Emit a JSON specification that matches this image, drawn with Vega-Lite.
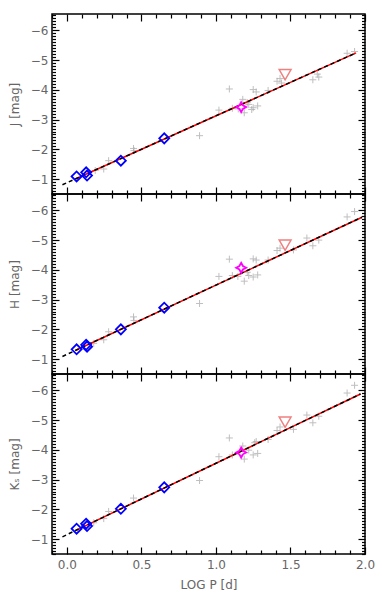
{
  "$schema": "https://vega.github.io/schema/vega-lite/v6.json",
  "padding": {"left": 7, "top": 8, "right": 16, "bottom": 4},
  "spacing": 0,
  "bounds": "flush",
  "config": {
    "view": {"stroke": "black", "strokeWidth": 1.5},
    "axis": {
      "domain": false, "grid": false,
      "labelFont": "DejaVu Sans", "labelFontSize": 12, "labelColor": "#666666",
      "titleFont": "DejaVu Sans", "titleFontSize": 12, "titleColor": "#666666", "titleFontWeight": "normal",
      "tickColor": "black", "tickWidth": 1.2, "labelFlush": false, "labelOverlap": false
    }
  },
  "datasets": {
    "J": [
      {"logP": 0.19, "mag": -1.29, "kind": "field"},
      {"logP": 0.247, "mag": -1.34, "kind": "field"},
      {"logP": 0.28, "mag": -1.62, "kind": "field"},
      {"logP": 0.447, "mag": -2.03, "kind": "field"},
      {"logP": 0.45, "mag": -1.96, "kind": "field"},
      {"logP": 0.89, "mag": -2.46, "kind": "field"},
      {"logP": 1.02, "mag": -3.32, "kind": "field"},
      {"logP": 1.09, "mag": -4.03, "kind": "field"},
      {"logP": 1.11, "mag": -3.38, "kind": "field"},
      {"logP": 1.15, "mag": -3.36, "kind": "field"},
      {"logP": 1.18, "mag": -3.68, "kind": "field"},
      {"logP": 1.19, "mag": -3.23, "kind": "field"},
      {"logP": 1.21, "mag": -3.57, "kind": "field"},
      {"logP": 1.22, "mag": -3.51, "kind": "field"},
      {"logP": 1.24, "mag": -3.34, "kind": "field"},
      {"logP": 1.25, "mag": -4.01, "kind": "field"},
      {"logP": 1.27, "mag": -3.93, "kind": "field"},
      {"logP": 1.25, "mag": -3.4, "kind": "field"},
      {"logP": 1.28, "mag": -3.46, "kind": "field"},
      {"logP": 1.35, "mag": -3.98, "kind": "field"},
      {"logP": 1.41, "mag": -4.29, "kind": "field"},
      {"logP": 1.43, "mag": -4.38, "kind": "field"},
      {"logP": 1.44, "mag": -4.23, "kind": "field"},
      {"logP": 1.65, "mag": -4.34, "kind": "field"},
      {"logP": 1.68, "mag": -4.53, "kind": "field"},
      {"logP": 1.69, "mag": -4.43, "kind": "field"},
      {"logP": 1.88, "mag": -5.23, "kind": "field"},
      {"logP": 1.93, "mag": -5.29, "kind": "field"},
      {"logP": 0.065, "mag": -1.09, "kind": "blue"},
      {"logP": 0.129, "mag": -1.23, "kind": "blue"},
      {"logP": 0.135, "mag": -1.12, "kind": "blue"},
      {"logP": 0.362, "mag": -1.62, "kind": "blue"},
      {"logP": 0.653, "mag": -2.37, "kind": "blue"},
      {"logP": 1.169, "mag": -3.42, "kind": "magenta"},
      {"logP": 1.464, "mag": -4.51, "kind": "red"}
    ],
    "Jfit": [
      {"logP": 0.06, "mag": -1.013, "line": "red"},
      {"logP": 1.94, "mag": -5.243, "line": "red"},
      {"logP": -0.03, "mag": -0.81, "line": "black"},
      {"logP": 1.94, "mag": -5.243, "line": "black"}
    ],
    "H": [
      {"logP": 0.18, "mag": -1.53, "kind": "field"},
      {"logP": 0.247, "mag": -1.65, "kind": "field"},
      {"logP": 0.28, "mag": -1.92, "kind": "field"},
      {"logP": 0.447, "mag": -2.42, "kind": "field"},
      {"logP": 0.45, "mag": -2.3, "kind": "field"},
      {"logP": 0.89, "mag": -2.87, "kind": "field"},
      {"logP": 1.02, "mag": -3.78, "kind": "field"},
      {"logP": 1.09, "mag": -4.36, "kind": "field"},
      {"logP": 1.11, "mag": -3.81, "kind": "field"},
      {"logP": 1.147, "mag": -3.78, "kind": "field"},
      {"logP": 1.19, "mag": -3.62, "kind": "field"},
      {"logP": 1.21, "mag": -3.92, "kind": "field"},
      {"logP": 1.22, "mag": -3.81, "kind": "field"},
      {"logP": 1.25, "mag": -4.37, "kind": "field"},
      {"logP": 1.27, "mag": -4.33, "kind": "field"},
      {"logP": 1.25, "mag": -3.76, "kind": "field"},
      {"logP": 1.28, "mag": -3.83, "kind": "field"},
      {"logP": 1.35, "mag": -4.33, "kind": "field"},
      {"logP": 1.41, "mag": -4.65, "kind": "field"},
      {"logP": 1.43, "mag": -4.73, "kind": "field"},
      {"logP": 1.52, "mag": -4.67, "kind": "field"},
      {"logP": 1.61, "mag": -5.07, "kind": "field"},
      {"logP": 1.65, "mag": -4.81, "kind": "field"},
      {"logP": 1.69, "mag": -5.0, "kind": "field"},
      {"logP": 1.88, "mag": -5.78, "kind": "field"},
      {"logP": 1.93, "mag": -5.96, "kind": "field"},
      {"logP": 0.065, "mag": -1.33, "kind": "blue"},
      {"logP": 0.129, "mag": -1.48, "kind": "blue"},
      {"logP": 0.135, "mag": -1.42, "kind": "blue"},
      {"logP": 0.362, "mag": -2.0, "kind": "blue"},
      {"logP": 0.653, "mag": -2.73, "kind": "blue"},
      {"logP": 1.169, "mag": -4.07, "kind": "magenta"},
      {"logP": 1.464, "mag": -4.83, "kind": "red"}
    ],
    "Hfit": [
      {"logP": 0.06, "mag": -1.30, "line": "red"},
      {"logP": 1.98, "mag": -5.77, "line": "red"},
      {"logP": -0.03, "mag": -1.09, "line": "black"},
      {"logP": 1.98, "mag": -5.77, "line": "black"}
    ],
    "K": [
      {"logP": 0.18, "mag": -1.55, "kind": "field"},
      {"logP": 0.247, "mag": -1.69, "kind": "field"},
      {"logP": 0.28, "mag": -1.93, "kind": "field"},
      {"logP": 0.447, "mag": -2.38, "kind": "field"},
      {"logP": 0.89, "mag": -2.97, "kind": "field"},
      {"logP": 1.02, "mag": -3.77, "kind": "field"},
      {"logP": 1.09, "mag": -4.4, "kind": "field"},
      {"logP": 1.11, "mag": -3.83, "kind": "field"},
      {"logP": 1.18, "mag": -4.13, "kind": "field"},
      {"logP": 1.19, "mag": -3.69, "kind": "field"},
      {"logP": 1.22, "mag": -3.99, "kind": "field"},
      {"logP": 1.26, "mag": -4.24, "kind": "field"},
      {"logP": 1.27, "mag": -4.28, "kind": "field"},
      {"logP": 1.25, "mag": -3.83, "kind": "field"},
      {"logP": 1.28, "mag": -3.88, "kind": "field"},
      {"logP": 1.35, "mag": -4.35, "kind": "field"},
      {"logP": 1.41, "mag": -4.65, "kind": "field"},
      {"logP": 1.43, "mag": -4.77, "kind": "field"},
      {"logP": 1.52, "mag": -4.69, "kind": "field"},
      {"logP": 1.61, "mag": -5.17, "kind": "field"},
      {"logP": 1.65, "mag": -4.91, "kind": "field"},
      {"logP": 1.69, "mag": -5.13, "kind": "field"},
      {"logP": 1.88, "mag": -5.91, "kind": "field"},
      {"logP": 1.93, "mag": -6.17, "kind": "field"},
      {"logP": 0.065, "mag": -1.35, "kind": "blue"},
      {"logP": 0.129, "mag": -1.52, "kind": "blue"},
      {"logP": 0.135, "mag": -1.44, "kind": "blue"},
      {"logP": 0.362, "mag": -2.02, "kind": "blue"},
      {"logP": 0.653, "mag": -2.74, "kind": "blue"},
      {"logP": 1.169, "mag": -3.91, "kind": "magenta"},
      {"logP": 1.464, "mag": -4.93, "kind": "red"}
    ],
    "Kfit": [
      {"logP": 0.06, "mag": -1.294, "line": "red"},
      {"logP": 1.97, "mag": -5.878, "line": "red"},
      {"logP": -0.03, "mag": -1.078, "line": "black"},
      {"logP": 1.97, "mag": -5.878, "line": "black"}
    ]
  },
  "vconcat": [
    {
      "width": 313, "height": 180,
      "data": {"name": "J"},
      "resolve": {"axis": {"x": "independent", "y": "independent"}},
      "layer": [
        {
          "transform": [{"filter": "datum.kind == 'field'"}],
          "mark": {"type": "point", "shape": "M-1,0L1,0M0,-1L0,1", "filled": false, "color": "#a5a5a5", "strokeWidth": 1, "size": 49},
          "encoding": {
            "x": {"field": "logP", "type": "quantitative", "scale": {"domain": [-0.1, 2.0], "nice": false, "zero": false},
              "axis": {"orient": "bottom", "title": null, "labels": false,
                "values": [-0.1,0,0.1,0.2,0.3,0.4,0.5,0.6,0.7,0.8,0.9,1,1.1,1.2,1.3,1.4,1.5,1.6,1.7,1.8,1.9,2],
                "tickSize": {"condition": {"test": "abs(datum.value*2-round(datum.value*2))<0.01", "value": -7}, "value": -4}}},
            "y": {"field": "mag", "type": "quantitative", "scale": {"domain": [-6.55, -0.5], "reverse": true, "nice": false, "zero": false},
              "axis": {"orient": "left", "title": "J [mag]", "titlePadding": 9, "labelPadding": 11,
                "values": [-6.5,-6.4,-6.3,-6.2,-6.1,-6,-5.9,-5.8,-5.7,-5.6,-5.5,-5.4,-5.3,-5.2,-5.1,-5,-4.9,-4.8,-4.7,-4.6,-4.5,-4.4,-4.3,-4.2,-4.1,-4,-3.9,-3.8,-3.7,-3.6,-3.5,-3.4,-3.3,-3.2,-3.1,-3,-2.9,-2.8,-2.7,-2.6,-2.5,-2.4,-2.3,-2.2,-2.1,-2,-1.9,-1.8,-1.7,-1.6,-1.5,-1.4,-1.3,-1.2,-1.1,-1,-0.9,-0.8,-0.7,-0.6,-0.5],
                "labelExpr": "abs(datum.value-round(datum.value))<0.01 ? '−' + format(abs(datum.value),'.0f') : ''",
                "tickSize": {"condition": {"test": "abs(datum.value-round(datum.value))<0.01", "value": -7}, "value": -3.5}}}
          }
        },
        {
          "data": {"name": "Jfit"},
          "transform": [{"filter": "datum.line == 'red'"}],
          "mark": {"type": "line", "color": "#ff0000", "strokeWidth": 1.5},
          "encoding": {
            "x": {"field": "logP", "type": "quantitative",
              "axis": {"orient": "top", "title": null, "labels": false,
                "values": [-0.1,0,0.1,0.2,0.3,0.4,0.5,0.6,0.7,0.8,0.9,1,1.1,1.2,1.3,1.4,1.5,1.6,1.7,1.8,1.9,2],
                "tickSize": {"condition": {"test": "abs(datum.value*2-round(datum.value*2))<0.01", "value": -7}, "value": -4}}},
            "y": {"field": "mag", "type": "quantitative",
              "axis": {"orient": "right", "title": null, "labels": false,
                "values": [-6.5,-6.4,-6.3,-6.2,-6.1,-6,-5.9,-5.8,-5.7,-5.6,-5.5,-5.4,-5.3,-5.2,-5.1,-5,-4.9,-4.8,-4.7,-4.6,-4.5,-4.4,-4.3,-4.2,-4.1,-4,-3.9,-3.8,-3.7,-3.6,-3.5,-3.4,-3.3,-3.2,-3.1,-3,-2.9,-2.8,-2.7,-2.6,-2.5,-2.4,-2.3,-2.2,-2.1,-2,-1.9,-1.8,-1.7,-1.6,-1.5,-1.4,-1.3,-1.2,-1.1,-1,-0.9,-0.8,-0.7,-0.6,-0.5],
                "tickSize": {"condition": {"test": "abs(datum.value-round(datum.value))<0.01", "value": -7}, "value": -3.5}}}
          }
        },
        {
          "data": {"name": "Jfit"},
          "transform": [{"filter": "datum.line == 'black'"}],
          "mark": {"type": "line", "color": "#000000", "strokeWidth": 1.5, "strokeDash": [4, 3]},
          "encoding": {"x": {"field": "logP", "type": "quantitative", "axis": null}, "y": {"field": "mag", "type": "quantitative", "axis": null}}
        },
        {
          "transform": [{"filter": "datum.kind == 'blue'"}],
          "mark": {"type": "point", "shape": "diamond", "filled": false, "color": "#0000ff", "strokeWidth": 1.8, "size": 100, "opacity": 1},
          "encoding": {"x": {"field": "logP", "type": "quantitative", "axis": null}, "y": {"field": "mag", "type": "quantitative", "axis": null}}
        },
        {
          "transform": [{"filter": "datum.kind == 'magenta'"}],
          "mark": {"type": "point", "shape": "M0,-1L0.35,-0.35L1,0L0.35,0.35L0,1L-0.35,0.35L-1,0L-0.35,-0.35Z", "filled": false, "color": "#ff00ff", "strokeWidth": 1.8, "size": 100, "opacity": 1},
          "encoding": {"x": {"field": "logP", "type": "quantitative", "axis": null}, "y": {"field": "mag", "type": "quantitative", "axis": null}}
        },
        {
          "transform": [{"filter": "datum.kind == 'red'"}],
          "mark": {"type": "point", "shape": "triangle-down", "filled": false, "color": "#f08080", "strokeWidth": 1.5, "size": 140, "opacity": 1},
          "encoding": {"x": {"field": "logP", "type": "quantitative", "axis": null}, "y": {"field": "mag", "type": "quantitative", "axis": null}}
        }
      ]
    },
    {
      "width": 313, "height": 180,
      "data": {"name": "H"},
      "resolve": {"axis": {"x": "independent", "y": "independent"}},
      "layer": [
        {
          "transform": [{"filter": "datum.kind == 'field'"}],
          "mark": {"type": "point", "shape": "M-1,0L1,0M0,-1L0,1", "filled": false, "color": "#a5a5a5", "strokeWidth": 1, "size": 49},
          "encoding": {
            "x": {"field": "logP", "type": "quantitative", "scale": {"domain": [-0.1, 2.0], "nice": false, "zero": false},
              "axis": {"orient": "bottom", "title": null, "labels": false,
                "values": [-0.1,0,0.1,0.2,0.3,0.4,0.5,0.6,0.7,0.8,0.9,1,1.1,1.2,1.3,1.4,1.5,1.6,1.7,1.8,1.9,2],
                "tickSize": {"condition": {"test": "abs(datum.value*2-round(datum.value*2))<0.01", "value": -7}, "value": -4}}},
            "y": {"field": "mag", "type": "quantitative", "scale": {"domain": [-6.55, -0.5], "reverse": true, "nice": false, "zero": false},
              "axis": {"orient": "left", "title": "H [mag]", "titlePadding": 9, "labelPadding": 11,
                "values": [-6.5,-6.4,-6.3,-6.2,-6.1,-6,-5.9,-5.8,-5.7,-5.6,-5.5,-5.4,-5.3,-5.2,-5.1,-5,-4.9,-4.8,-4.7,-4.6,-4.5,-4.4,-4.3,-4.2,-4.1,-4,-3.9,-3.8,-3.7,-3.6,-3.5,-3.4,-3.3,-3.2,-3.1,-3,-2.9,-2.8,-2.7,-2.6,-2.5,-2.4,-2.3,-2.2,-2.1,-2,-1.9,-1.8,-1.7,-1.6,-1.5,-1.4,-1.3,-1.2,-1.1,-1,-0.9,-0.8,-0.7,-0.6,-0.5],
                "labelExpr": "abs(datum.value-round(datum.value))<0.01 ? '−' + format(abs(datum.value),'.0f') : ''",
                "tickSize": {"condition": {"test": "abs(datum.value-round(datum.value))<0.01", "value": -7}, "value": -3.5}}}
          }
        },
        {
          "data": {"name": "Hfit"},
          "transform": [{"filter": "datum.line == 'red'"}],
          "mark": {"type": "line", "color": "#ff0000", "strokeWidth": 1.5},
          "encoding": {
            "x": {"field": "logP", "type": "quantitative",
              "axis": {"orient": "top", "title": null, "labels": false,
                "values": [-0.1,0,0.1,0.2,0.3,0.4,0.5,0.6,0.7,0.8,0.9,1,1.1,1.2,1.3,1.4,1.5,1.6,1.7,1.8,1.9,2],
                "tickSize": {"condition": {"test": "abs(datum.value*2-round(datum.value*2))<0.01", "value": -7}, "value": -4}}},
            "y": {"field": "mag", "type": "quantitative",
              "axis": {"orient": "right", "title": null, "labels": false,
                "values": [-6.5,-6.4,-6.3,-6.2,-6.1,-6,-5.9,-5.8,-5.7,-5.6,-5.5,-5.4,-5.3,-5.2,-5.1,-5,-4.9,-4.8,-4.7,-4.6,-4.5,-4.4,-4.3,-4.2,-4.1,-4,-3.9,-3.8,-3.7,-3.6,-3.5,-3.4,-3.3,-3.2,-3.1,-3,-2.9,-2.8,-2.7,-2.6,-2.5,-2.4,-2.3,-2.2,-2.1,-2,-1.9,-1.8,-1.7,-1.6,-1.5,-1.4,-1.3,-1.2,-1.1,-1,-0.9,-0.8,-0.7,-0.6,-0.5],
                "tickSize": {"condition": {"test": "abs(datum.value-round(datum.value))<0.01", "value": -7}, "value": -3.5}}}
          }
        },
        {
          "data": {"name": "Hfit"},
          "transform": [{"filter": "datum.line == 'black'"}],
          "mark": {"type": "line", "color": "#000000", "strokeWidth": 1.5, "strokeDash": [4, 3]},
          "encoding": {"x": {"field": "logP", "type": "quantitative", "axis": null}, "y": {"field": "mag", "type": "quantitative", "axis": null}}
        },
        {
          "transform": [{"filter": "datum.kind == 'blue'"}],
          "mark": {"type": "point", "shape": "diamond", "filled": false, "color": "#0000ff", "strokeWidth": 1.8, "size": 100, "opacity": 1},
          "encoding": {"x": {"field": "logP", "type": "quantitative", "axis": null}, "y": {"field": "mag", "type": "quantitative", "axis": null}}
        },
        {
          "transform": [{"filter": "datum.kind == 'magenta'"}],
          "mark": {"type": "point", "shape": "M0,-1L0.35,-0.35L1,0L0.35,0.35L0,1L-0.35,0.35L-1,0L-0.35,-0.35Z", "filled": false, "color": "#ff00ff", "strokeWidth": 1.8, "size": 100, "opacity": 1},
          "encoding": {"x": {"field": "logP", "type": "quantitative", "axis": null}, "y": {"field": "mag", "type": "quantitative", "axis": null}}
        },
        {
          "transform": [{"filter": "datum.kind == 'red'"}],
          "mark": {"type": "point", "shape": "triangle-down", "filled": false, "color": "#f08080", "strokeWidth": 1.5, "size": 140, "opacity": 1},
          "encoding": {"x": {"field": "logP", "type": "quantitative", "axis": null}, "y": {"field": "mag", "type": "quantitative", "axis": null}}
        }
      ]
    },
    {
      "width": 313, "height": 180,
      "data": {"name": "K"},
      "resolve": {"axis": {"x": "independent", "y": "independent"}},
      "layer": [
        {
          "transform": [{"filter": "datum.kind == 'field'"}],
          "mark": {"type": "point", "shape": "M-1,0L1,0M0,-1L0,1", "filled": false, "color": "#a5a5a5", "strokeWidth": 1, "size": 49},
          "encoding": {
            "x": {"field": "logP", "type": "quantitative", "scale": {"domain": [-0.1, 2.0], "nice": false, "zero": false},
              "axis": {"orient": "bottom", "title": "LOG P [d]", "titlePadding": 6, "labelPadding": 12,
                "values": [-0.1,0,0.1,0.2,0.3,0.4,0.5,0.6,0.7,0.8,0.9,1,1.1,1.2,1.3,1.4,1.5,1.6,1.7,1.8,1.9,2],
                "labelExpr": "abs(datum.value*2-round(datum.value*2))<0.01 ? format(datum.value,'.1f') : ''",
                "tickSize": {"condition": {"test": "abs(datum.value*2-round(datum.value*2))<0.01", "value": -7}, "value": -4}}},
            "y": {"field": "mag", "type": "quantitative", "scale": {"domain": [-6.55, -0.5], "reverse": true, "nice": false, "zero": false},
              "axis": {"orient": "left", "title": "Kₛ [mag]", "titlePadding": 9, "labelPadding": 11,
                "values": [-6.5,-6.4,-6.3,-6.2,-6.1,-6,-5.9,-5.8,-5.7,-5.6,-5.5,-5.4,-5.3,-5.2,-5.1,-5,-4.9,-4.8,-4.7,-4.6,-4.5,-4.4,-4.3,-4.2,-4.1,-4,-3.9,-3.8,-3.7,-3.6,-3.5,-3.4,-3.3,-3.2,-3.1,-3,-2.9,-2.8,-2.7,-2.6,-2.5,-2.4,-2.3,-2.2,-2.1,-2,-1.9,-1.8,-1.7,-1.6,-1.5,-1.4,-1.3,-1.2,-1.1,-1,-0.9,-0.8,-0.7,-0.6,-0.5],
                "labelExpr": "abs(datum.value-round(datum.value))<0.01 ? '−' + format(abs(datum.value),'.0f') : ''",
                "tickSize": {"condition": {"test": "abs(datum.value-round(datum.value))<0.01", "value": -7}, "value": -3.5}}}
          }
        },
        {
          "data": {"name": "Kfit"},
          "transform": [{"filter": "datum.line == 'red'"}],
          "mark": {"type": "line", "color": "#ff0000", "strokeWidth": 1.5},
          "encoding": {
            "x": {"field": "logP", "type": "quantitative",
              "axis": {"orient": "top", "title": null, "labels": false,
                "values": [-0.1,0,0.1,0.2,0.3,0.4,0.5,0.6,0.7,0.8,0.9,1,1.1,1.2,1.3,1.4,1.5,1.6,1.7,1.8,1.9,2],
                "tickSize": {"condition": {"test": "abs(datum.value*2-round(datum.value*2))<0.01", "value": -7}, "value": -4}}},
            "y": {"field": "mag", "type": "quantitative",
              "axis": {"orient": "right", "title": null, "labels": false,
                "values": [-6.5,-6.4,-6.3,-6.2,-6.1,-6,-5.9,-5.8,-5.7,-5.6,-5.5,-5.4,-5.3,-5.2,-5.1,-5,-4.9,-4.8,-4.7,-4.6,-4.5,-4.4,-4.3,-4.2,-4.1,-4,-3.9,-3.8,-3.7,-3.6,-3.5,-3.4,-3.3,-3.2,-3.1,-3,-2.9,-2.8,-2.7,-2.6,-2.5,-2.4,-2.3,-2.2,-2.1,-2,-1.9,-1.8,-1.7,-1.6,-1.5,-1.4,-1.3,-1.2,-1.1,-1,-0.9,-0.8,-0.7,-0.6,-0.5],
                "tickSize": {"condition": {"test": "abs(datum.value-round(datum.value))<0.01", "value": -7}, "value": -3.5}}}
          }
        },
        {
          "data": {"name": "Kfit"},
          "transform": [{"filter": "datum.line == 'black'"}],
          "mark": {"type": "line", "color": "#000000", "strokeWidth": 1.5, "strokeDash": [4, 3]},
          "encoding": {"x": {"field": "logP", "type": "quantitative", "axis": null}, "y": {"field": "mag", "type": "quantitative", "axis": null}}
        },
        {
          "transform": [{"filter": "datum.kind == 'blue'"}],
          "mark": {"type": "point", "shape": "diamond", "filled": false, "color": "#0000ff", "strokeWidth": 1.8, "size": 100, "opacity": 1},
          "encoding": {"x": {"field": "logP", "type": "quantitative", "axis": null}, "y": {"field": "mag", "type": "quantitative", "axis": null}}
        },
        {
          "transform": [{"filter": "datum.kind == 'magenta'"}],
          "mark": {"type": "point", "shape": "M0,-1L0.35,-0.35L1,0L0.35,0.35L0,1L-0.35,0.35L-1,0L-0.35,-0.35Z", "filled": false, "color": "#ff00ff", "strokeWidth": 1.8, "size": 100, "opacity": 1},
          "encoding": {"x": {"field": "logP", "type": "quantitative", "axis": null}, "y": {"field": "mag", "type": "quantitative", "axis": null}}
        },
        {
          "transform": [{"filter": "datum.kind == 'red'"}],
          "mark": {"type": "point", "shape": "triangle-down", "filled": false, "color": "#f08080", "strokeWidth": 1.5, "size": 140, "opacity": 1},
          "encoding": {"x": {"field": "logP", "type": "quantitative", "axis": null}, "y": {"field": "mag", "type": "quantitative", "axis": null}}
        }
      ]
    }
  ]
}
